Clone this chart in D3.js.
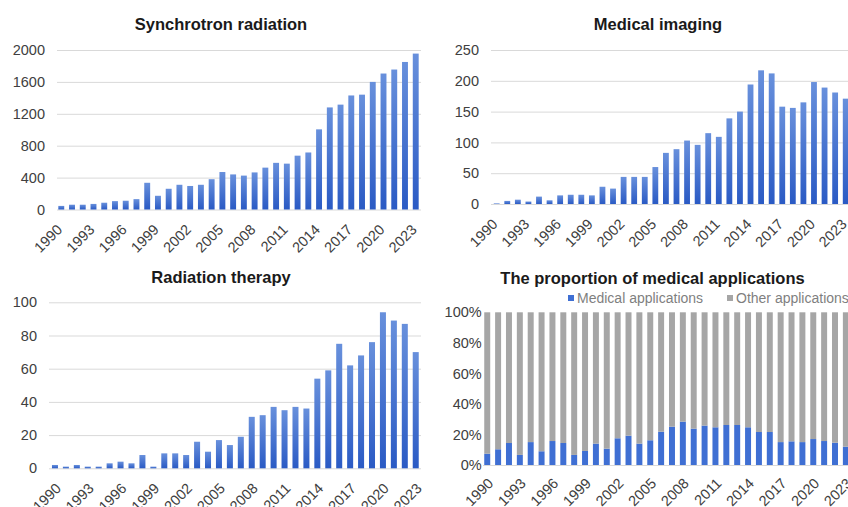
<!DOCTYPE html>
<html>
<head>
<meta charset="utf-8">
<script src="https://cdn.jsdelivr.net/npm/d3@7"></script>
<style>
  html, body { margin: 0; padding: 0; background: #fff; overflow: hidden; }
  svg { display: block; font-family: "Liberation Sans", Arial, sans-serif; }
</style>
</head>
<body>
<svg id="chart" width="848" height="507"></svg>
<script>
// Publication counts per year, 1990–2023
const years = d3.range(1990, 2024).map(String);
const tickYears = ["1990","1993","1996","1999","2002","2005","2008","2011","2014","2017","2020","2023"];

const synchrotron = [45, 60, 60, 70, 85, 105, 110, 130, 335, 172, 260, 310, 295, 310, 380, 470, 440, 425,
  465, 525, 585, 575, 675, 715, 1005, 1280, 1315, 1430, 1440, 1600, 1705, 1755, 1850, 1955];

const imaging = [1, 5, 7, 4, 12, 6, 14, 15, 15, 14, 28, 25, 44, 44, 44, 60, 83, 89,
  103, 96, 115, 109, 139, 150, 194, 217, 212, 158, 156, 165, 198, 189, 181, 171];

const therapy = [2, 1, 2, 1, 1, 3, 4, 3, 8, 1, 9, 9, 8, 16, 10, 17, 14, 19,
  31, 32, 37, 35, 37, 36, 54, 59, 75, 62, 68, 76, 94, 89, 87, 70];

// Share of medical applications among all publications (%)
const medicalShare = [7.4, 10.3, 14.4, 6.6, 15.0, 9.0, 15.7, 14.4, 6.6, 9.2, 14.0, 10.7, 17.5, 19.2, 14.0, 16.2,
  21.8, 25.1, 28.4, 23.8, 25.8, 24.7, 26.2, 26.2, 24.7, 21.6, 21.6, 15.0, 15.5, 15.0, 17.0, 15.7, 14.6, 12.0];

const svg = d3.select("#chart");

const defs = svg.append("defs");
const grad = defs.append("linearGradient")
  .attr("id", "barFill").attr("x1", 0).attr("y1", 0).attr("x2", 0).attr("y2", 1);
grad.append("stop").attr("offset", "0%").attr("stop-color", "#6890dc");
grad.append("stop").attr("offset", "100%").attr("stop-color", "#2a5ac4");

const tickColor = "#404040";
const gridColor = "#d9d9d9";

// Rotated year labels under a panel
function xAxis(g, x, axisY, offset, down) {
  const ax = g.append("g")
    .attr("transform", `translate(0,${axisY})`)
    .call(d3.axisBottom(x).tickValues(tickYears).tickSize(0));
  ax.select(".domain").remove();
  ax.selectAll("text")
    .attr("x", 0).attr("y", 0).attr("dy", "0.35em")
    .attr("transform", `translate(${offset - 3.7},${down}) rotate(-45)`)
    .attr("text-anchor", "end")
    .attr("font-size", 14.5)
    .attr("font-family", "Liberation Sans, Arial, sans-serif")
    .attr("fill", tickColor);
}

// Value axis with horizontal gridlines
function yAxis(g, y, ticks, labelRight, gridLeft, gridRight, fmt) {
  const ax = g.append("g")
    .attr("transform", `translate(${gridLeft},0)`)
    .call(d3.axisLeft(y).tickValues(ticks).tickFormat(fmt)
      .tickSize(-(gridRight - gridLeft)).tickPadding(gridLeft - labelRight));
  ax.select(".domain").remove();
  ax.selectAll("line").attr("stroke", gridColor);
  ax.selectAll("text")
    .attr("font-size", 14.5)
    .attr("font-family", "Liberation Sans, Arial, sans-serif")
    .attr("fill", tickColor);
}

function title(txt, cx, by) {
  svg.append("text")
    .attr("x", cx).attr("y", by)
    .attr("text-anchor", "middle")
    .attr("font-size", 16.5)
    .attr("font-weight", "bold")
    .attr("fill", "#1a1a1a")
    .text(txt);
}

function barPanel(opts) {
  const g = svg.append("g");
  const x = d3.scaleBand().domain(years).range(opts.xRange).paddingInner(0.45).paddingOuter(0.225);
  const y = d3.scaleLinear().domain([0, opts.max]).range(opts.yRange);
  yAxis(g, y, opts.ticks, opts.labelRight, opts.gridX[0], opts.gridX[1], d => d);
  g.append("g")
    .selectAll("rect")
    .data(opts.values)
    .join("rect")
    .attr("x", (d, i) => x(years[i]))
    .attr("width", x.bandwidth())
    .attr("y", d => y(d))
    .attr("height", d => y(0) - y(d))
    .attr("fill", "url(#barFill)");
  xAxis(g, x, opts.yRange[0], opts.labelOffset, 17.5);
  title(opts.title, opts.titleX, opts.titleY);
}

barPanel({
  title: "Synchrotron radiation", titleX: 221, titleY: 30,
  values: synchrotron, max: 2000, ticks: [0, 400, 800, 1200, 1600, 2000],
  xRange: [55.9, 421.1], yRange: [209.5, 50], labelRight: 45, gridX: [57, 421], labelOffset: 2
});

barPanel({
  title: "Medical imaging", titleX: 658, titleY: 30,
  values: imaging, max: 250, ticks: [0, 50, 100, 150, 200, 250],
  xRange: [491.4, 851], yRange: [204, 50], labelRight: 479, gridX: [491, 860], labelOffset: 2
});

barPanel({
  title: "Radiation therapy", titleX: 221, titleY: 283,
  values: therapy, max: 100, ticks: [0, 20, 40, 60, 80, 100],
  xRange: [49.5, 421.2], yRange: [468.3, 302.3], labelRight: 37, gridX: [49, 421], labelOffset: 7
});

// Stacked share panel
{
  const g = svg.append("g");
  const x = d3.scaleBand().domain(years).range([481.8, 851.3]).paddingInner(0.45).paddingOuter(0.225);
  const y = d3.scaleLinear().domain([0, 100]).range([465, 312.3]);
  const rows = years.map((yr, i) => ({ year: yr, medical: medicalShare[i], other: 100 - medicalShare[i] }));
  const stack = d3.stack().keys(["medical", "other"])(rows);
  const colors = { medical: "#3f6fd3", other: "#a6a6a6" };

  const ay = g.append("g")
    .attr("transform", "translate(484,0)")
    .call(d3.axisLeft(y).tickValues([0, 20, 40, 60, 80, 100]).tickFormat(d => d + "%")
      .tickSize(0).tickPadding(2.3));
  ay.select(".domain").remove();
  ay.selectAll("text")
    .attr("font-size", 14.5)
    .attr("font-family", "Liberation Sans, Arial, sans-serif")
    .attr("fill", tickColor);

  g.append("g")
    .selectAll("g")
    .data(stack)
    .join("g")
    .attr("fill", s => colors[s.key])
    .selectAll("rect")
    .data(s => s)
    .join("rect")
    .attr("x", d => x(d.data.year))
    .attr("width", x.bandwidth())
    .attr("y", d => y(d[1]))
    .attr("height", d => y(d[0]) - y(d[1]));

  g.append("line")
    .attr("x1", 483).attr("x2", 860)
    .attr("y1", 465.5).attr("y2", 465.5)
    .attr("stroke", gridColor);

  xAxis(g, x, 465, 7, 15.6);
  title("The proportion of medical applications", 652.5, 284);

  const legend = [
    { key: "medical", label: "Medical applications", x: 568 },
    { key: "other", label: "Other applications", x: 727 }
  ];
  const lg = g.append("g").selectAll("g").data(legend).join("g")
    .attr("transform", d => `translate(${d.x},303)`);
  lg.append("rect").attr("x", 0).attr("y", -8).attr("width", 6).attr("height", 6)
    .attr("fill", d => colors[d.key]);
  lg.append("text").attr("x", 9).attr("y", 0)
    .attr("font-size", 14).attr("fill", "#7f7f7f")
    .text(d => d.label);
}
</script>
</body>
</html>
